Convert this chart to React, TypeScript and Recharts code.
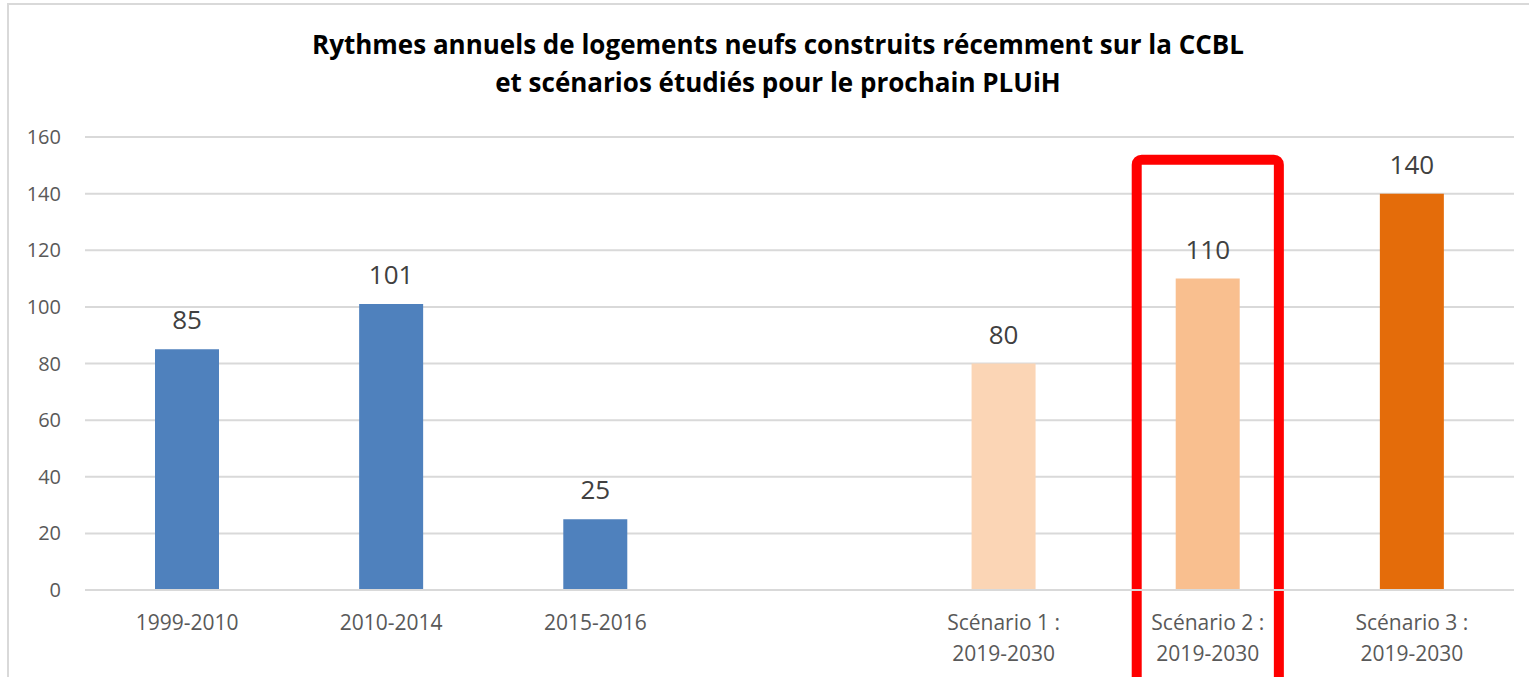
import React from "react";
import { BarChart, Bar, XAxis, YAxis, CartesianGrid, LabelList, Cell, ReferenceArea } from "recharts";

const categories = ["1999-2010", "2010-2014", "2015-2016", "", "Scénario 1 :\n2019-2030", "Scénario 2 :\n2019-2030", "Scénario 3 :\n2019-2030"];
const values: (number | null)[] = [85, 101, 25, null, 80, 110, 140];
const colors = ["#4F81BD", "#4F81BD", "#4F81BD", "#4F81BD", "#FBD5B5", "#F9BF8F", "#E46C0A"];
const yTicks = [0, 20, 40, 60, 80, 100, 120, 140, 160];
const titleLines = ["Rythmes annuels de logements neufs construits récemment sur la CCBL", "et scénarios étudiés pour le prochain PLUiH"];
const highlighted = "Scénario 2 :\n2019-2030";

const data = categories.map((c, i) => ({ name: c, value: values[i] }));

const FONT = "'Open Sans', sans-serif";

const XTick = (props: any) => {
  const { x, y, payload } = props;
  const lines = String(payload.value).split("\n");
  return (
    <text x={x} y={y} textAnchor="middle" fill="#595959" fontSize={21} fontFamily={FONT}>
      {lines.map((l, i) => (
        <tspan key={i} x={x} dy={i === 0 ? 32 : 31}>{l}</tspan>
      ))}
    </text>
  );
};

const RedBox = (props: any) => {
  const { x, y, width, height } = props;
  const inset = 31;
  return (
    <rect x={x + inset} y={y} width={width - inset * 2} height={height} rx={5} ry={5}
      fill="none" stroke="#FF0000" strokeWidth={10} />
  );
};

export default function App() {
  return (
    <div style={{ position: "fixed", left: 0, top: 0, width: 1529, height: 677, background: "#fff", overflow: "hidden" }}>
      <div style={{ position: "absolute", left: 7, top: 3, width: 1540, height: 700, border: "2px solid #D9D9D9", boxSizing: "border-box" }} />
      <div style={{ position: "absolute", left: 0, top: 25, width: 1556, textAlign: "center", fontFamily: FONT, fontWeight: 700, fontSize: 26, lineHeight: "38px", color: "#000" }}>
        {titleLines.map((t, i) => <div key={i}>{t}</div>)}
      </div>
      <div style={{ position: "absolute", left: 0, top: 0 }}>
        <BarChart width={1529} height={677} data={data} margin={{ top: 137, right: 15, bottom: 0, left: 0 }} barCategoryGap={0}>
          <CartesianGrid vertical={false} stroke="#D9D9D9" strokeWidth={2} />
          <XAxis dataKey="name" interval={0} tickLine={false} axisLine={{ stroke: "#D9D9D9", strokeWidth: 2 }} height={87} tick={<XTick />} />
          <YAxis domain={[0, 160]} ticks={yTicks} width={85} axisLine={false} tickLine={false}
            tick={{ fill: "#595959", fontSize: 20, fontFamily: FONT }} tickMargin={18} />
          <ReferenceArea x1={highlighted} x2={highlighted} y1={-40} y2={152} ifOverflow="visible" shape={<RedBox />} />
          <Bar dataKey="value" barSize={64} isAnimationActive={false}>
            {data.map((d, i) => <Cell key={i} fill={colors[i]} />)}
            <LabelList dataKey="value" position="top" offset={20} fill="#404040" fontSize={26} fontFamily={FONT} />
          </Bar>
        </BarChart>
      </div>
    </div>
  );
}
